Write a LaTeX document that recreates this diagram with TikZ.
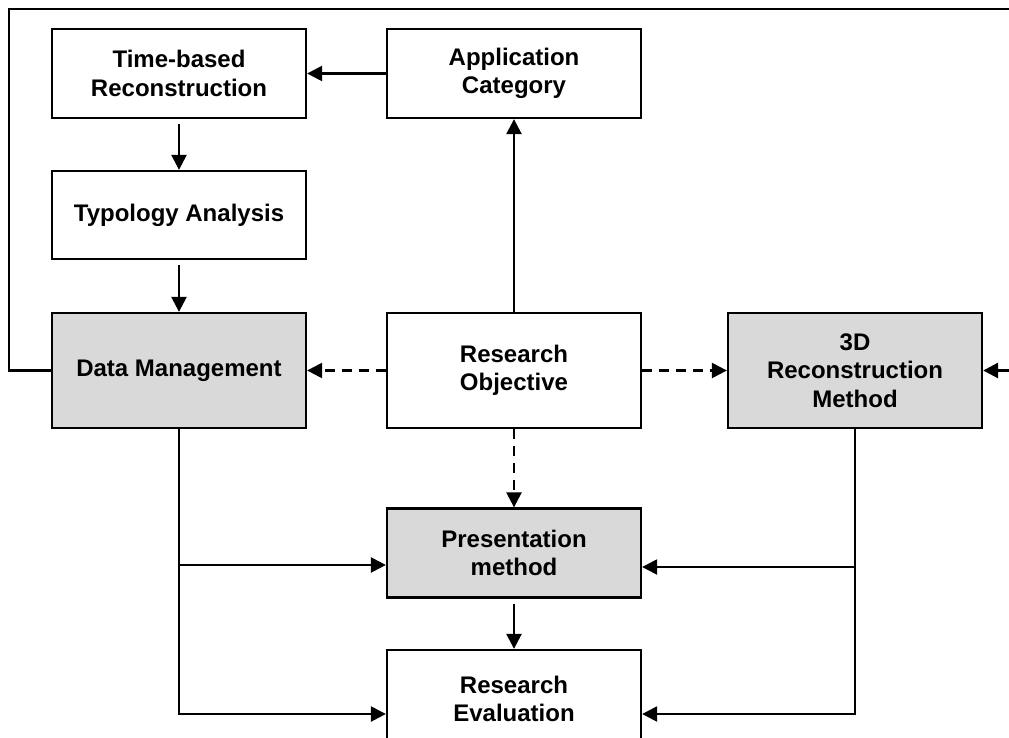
\documentclass[tikz,border=0pt]{standalone}
\usepackage{fontspec}
\setmainfont{Liberation Sans}
\usetikzlibrary{arrows.meta}
\definecolor{boxgray}{RGB}{217,217,217}
\tikzset{
  box/.style={draw=black, line width=2.3pt, fill=white, minimum width=254pt, inner sep=0pt, align=center,
    font=\fontsize{24}{28.5}\selectfont\bfseries},
  graybox/.style={box, fill=boxgray},
  arr/.style={line width=2.4pt, -{Triangle[length=15pt,width=15pt]}},
  darr/.style={arr, dash pattern=on 10pt off 7pt},
  loopline/.style={line width=2.8pt, -{Triangle[length=15pt,width=15pt]}}
}
\begin{document}
\begin{tikzpicture}[x=1pt,y=-1pt]
\useasboundingbox (0,0) rectangle (1009,738);
\clip (0,0) rectangle (1009,738);
\node[box, minimum height=89pt] (tbr) at (179,73.5) {Time-based\\Reconstruction};
\node[box, minimum height=89pt] (app) at (514,73.5) {Application\\Category};
\node[box, minimum height=88pt] (typ) at (179,215) {Typology Analysis};
\node[graybox, minimum height=115pt] (dm) at (179,370.5) {Data Management};
\node[box, minimum height=115pt] (ro) at (514,370.5) {Research\\Objective};
\node[graybox, minimum height=115pt] (rm) at (855,370.5) {3D\\Reconstruction\\Method};
\node[graybox, minimum height=89pt] (pm) at (514,553) {Presentation\\method};
\node[box, minimum height=98pt] (re) at (514,699) {Research\\Evaluation};

\coordinate (pmL) at ([yshift=-12pt]pm.west);
\coordinate (pmR) at ([yshift=-14pt]pm.east);
\coordinate (reL) at ([yshift=-15pt]re.west);
\coordinate (reR) at ([yshift=-15pt]re.east);
\coordinate (loopA) at (9,370.5);
\coordinate (loopB) at (9,9);
\coordinate (loopC) at (1030,9);

\draw[arr] (app.west) -- (tbr.east);
\draw[arr, shorten <=5pt] (tbr.south) -- (typ.north);
\draw[arr, shorten <=5pt] (typ.south) -- (dm.north);
\draw[arr] (ro.north) -- (app.south);
\draw[darr] (ro.west) -- (dm.east);
\draw[darr] (ro.east) -- (rm.west);
\draw[darr] (ro.south) -- (pm.north);
\draw[arr, shorten <=5pt] (pm.south) -- (re.north);
\draw[arr] (dm.south) |- (pmL);
\draw[arr] (dm.south) |- (reL);
\draw[arr] (rm.south) |- (pmR);
\draw[arr] (rm.south) |- (reR);
\draw[loopline] (dm.west) -- (loopA) -- (loopB) -- (loopC) |- (rm.east);
\end{tikzpicture}
\end{document}
